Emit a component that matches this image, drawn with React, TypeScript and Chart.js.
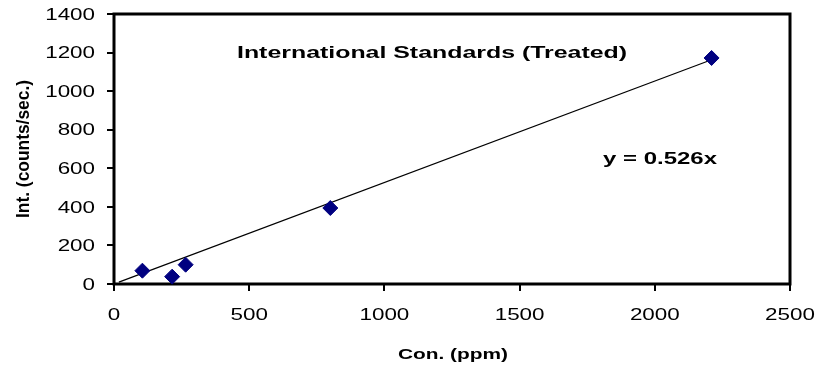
import React, { useEffect, useRef } from "react";
import { Chart, registerables } from "chart.js";

Chart.register(...registerables);

// ---- data ----
const concentrations = [105, 215, 265, 800, 2210];
const intensities = [69, 38, 100, 394, 1172];
const slope = 0.526;
const trendX = [18, 2210];
const xTickValues = [0, 500, 1000, 1500, 2000, 2500];
const yTickValues = [0, 200, 400, 600, 800, 1000, 1200, 1400];
const chartTitle = "International Standards (Treated)";
const equationLabel = "y = 0.526x";
const xTitle = "Con. (ppm)";
const yTitle = "Int. (counts/sec.)";

const FONT = '"Liberation Sans", Arial, sans-serif';

function drawStretched(
  ctx: CanvasRenderingContext2D,
  text: string,
  x: number,
  y: number,
  font: string,
  opts: { sx?: number; width?: number; sy?: number; align: CanvasTextAlign; rotate?: number }
) {
  ctx.save();
  ctx.font = font;
  ctx.textBaseline = "alphabetic";
  ctx.textAlign = opts.align;
  const w = ctx.measureText(text).width;
  const sx = opts.width ? opts.width / w : opts.sx ?? 1;
  ctx.translate(x, y);
  if (opts.rotate) ctx.rotate(opts.rotate);
  ctx.scale(sx, opts.sy ?? 1);
  ctx.fillStyle = "#000";
  ctx.fillText(text, 0, 0);
  ctx.restore();
}

const framePlugin = {
  id: "frame",
  beforeDatasetsDraw(chart: any) {
    const { ctx, chartArea: a } = chart;
    ctx.save();
    ctx.strokeStyle = "#000";
    ctx.lineWidth = 3;
    ctx.strokeRect(a.left, a.top, a.right - a.left, a.bottom - a.top);
    ctx.restore();
  },
};

const textPlugin = {
  id: "texts",
  afterDraw(chart: any) {
    const { ctx, scales } = chart;
    const xs = scales.x;
    const ys = scales.y;
    const tickFont = `16px ${FONT}`;
    const capT = 0.716 * 16;
    yTickValues.forEach((v) => {
      const py = ys.getPixelForValue(v);
      drawStretched(ctx, String(v), 95, py + capT / 2, tickFont, { sx: 1.4, align: "right" });
    });
    xTickValues.forEach((v) => {
      const px = xs.getPixelForValue(v);
      drawStretched(ctx, String(v), px, 314 + capT / 2, tickFont, { sx: 1.4, align: "center" });
    });
    // chart title
    drawStretched(ctx, chartTitle, 237, 52.5 + (0.716 * 16) / 2, `bold 16px ${FONT}`, {
      width: 390,
      align: "left",
    });
    // equation
    drawStretched(ctx, equationLabel, 603, 158 + (0.716 * 16.5) / 2, `bold 16.5px ${FONT}`, {
      width: 114,
      align: "left",
    });
    // x title
    drawStretched(ctx, xTitle, 453, 354 + (0.716 * 14) / 2, `bold 14px ${FONT}`, {
      width: 110,
      align: "center",
    });
    // y title (rotated)
    drawStretched(ctx, yTitle, 22 + (0.716 * 15 * 1.25) / 2, 149, `bold 15px ${FONT}`, {
      width: 138,
      sy: 1.25,
      align: "center",
      rotate: -Math.PI / 2,
    });
  },
};

export default function App() {
  const canvasRef = useRef<HTMLCanvasElement | null>(null);

  useEffect(() => {
    document.body.style.margin = "0";
    const canvas = canvasRef.current;
    if (!canvas) return;
    const points = concentrations.map((c, i) => ({ x: c, y: intensities[i] }));
    const trend = trendX.map((x) => ({ x, y: slope * x }));
    const tickGrid = {
      drawOnChartArea: false,
      drawTicks: true,
      tickLength: 7,
      color: "#000",
      lineWidth: 2,
    };
    const chart = new Chart(canvas, {
      type: "scatter",
      data: {
        datasets: [
          {
            type: "scatter",
            label: "Standards",
            data: points,
            pointStyle: "rectRot",
            pointRadius: 7.5,
            pointHoverRadius: 7.5,
            backgroundColor: "#000080",
            borderColor: "#000080",
            borderWidth: 1,
            order: 1,
            clip: false,
          } as any,
          {
            type: "line",
            label: "Trend",
            data: trend,
            borderColor: "#000",
            borderWidth: 1.2,
            pointRadius: 0,
            fill: false,
            order: 2,
          } as any,
        ],
      },
      options: {
        responsive: false,
        animation: false,
        layout: { padding: { left: 0, top: 14, right: 29, bottom: 0 } },
        plugins: {
          legend: { display: false },
          tooltip: { enabled: false },
          title: { display: false },
        },
        scales: {
          x: {
            type: "linear",
            min: 0,
            max: 2500,
            ticks: { stepSize: 500, display: false },
            grid: tickGrid,
            border: { display: false },
            afterFit: (s: any) => {
              s.height = 87;
            },
          },
          y: {
            type: "linear",
            min: 0,
            max: 1400,
            ticks: { stepSize: 200, display: false },
            grid: tickGrid,
            border: { display: false },
            afterFit: (s: any) => {
              s.width = 114;
            },
          },
        },
      } as any,
      plugins: [framePlugin, textPlugin],
    });
    return () => chart.destroy();
  }, []);

  return (
    <div style={{ width: 819, height: 371, background: "#fff" }}>
      <canvas ref={canvasRef} width={819} height={371} style={{ display: "block" }} />
    </div>
  );
}
